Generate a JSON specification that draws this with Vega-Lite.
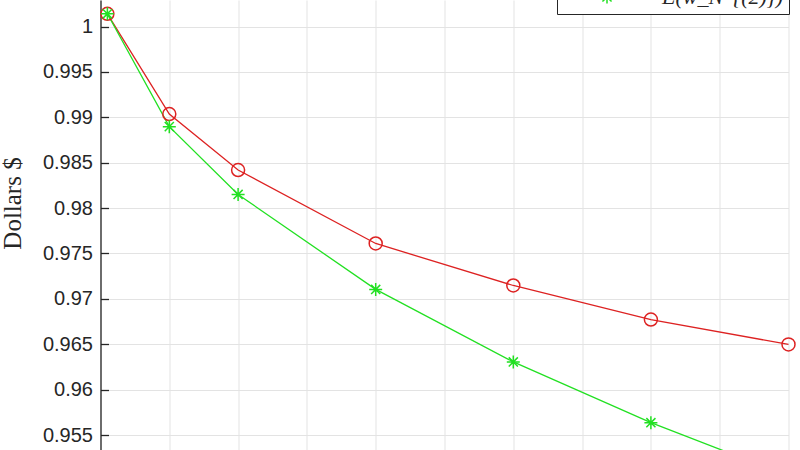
{
  "$schema": "https://vega.github.io/schema/vega-lite/v6.json",
  "width": 688,
  "height": 450,
  "autosize": {"type": "none"},
  "padding": {"left": 100.5, "top": 0, "right": 11.5, "bottom": 0},
  "background": "white",
  "config": {"view": {"stroke": null}},
  "data": {
    "values": [
      {"N": 1, "value": 1.0014, "series": "E(w_N^{(1)})"},
      {"N": 10, "value": 0.99036, "series": "E(w_N^{(1)})"},
      {"N": 20, "value": 0.98419, "series": "E(w_N^{(1)})"},
      {"N": 40, "value": 0.9761, "series": "E(w_N^{(1)})"},
      {"N": 60, "value": 0.97147, "series": "E(w_N^{(1)})"},
      {"N": 80, "value": 0.96772, "series": "E(w_N^{(1)})"},
      {"N": 100, "value": 0.96498, "series": "E(w_N^{(1)})"},
      {"N": 1, "value": 1.0014, "series": "E(w_N^{(2)})"},
      {"N": 10, "value": 0.98897, "series": "E(w_N^{(2)})"},
      {"N": 20, "value": 0.9815, "series": "E(w_N^{(2)})"},
      {"N": 40, "value": 0.97104, "series": "E(w_N^{(2)})"},
      {"N": 60, "value": 0.96305, "series": "E(w_N^{(2)})"},
      {"N": 80, "value": 0.95636, "series": "E(w_N^{(2)})"},
      {"N": 100, "value": 0.9505, "series": "E(w_N^{(2)})"}
    ]
  },
  "encoding": {
    "x": {
      "field": "N", "type": "quantitative",
      "scale": {"domain": [0, 100], "nice": false, "zero": false},
      "axis": {"values": [0,10,20,30,40,50,60,70,80,90,100], "grid": true, "gridColor": "#e3e3e3", "gridWidth": 1,
               "labels": false, "ticks": false, "domain": false, "title": null}
    },
    "y": {
      "field": "value", "type": "quantitative",
      "scale": {"domain": [0.953348, 1.002921], "nice": false, "zero": false},
      "axis": {
        "values": [0.955, 0.96, 0.965, 0.97, 0.975, 0.98, 0.985, 0.99, 0.995, 1],
        "format": "~g",
        "grid": true, "gridColor": "#e3e3e3", "gridWidth": 1,
        "domainColor": "#262626", "domainWidth": 1.3,
        "tickColor": "#262626", "tickSize": -8, "tickWidth": 1.3,
        "labelFont": "Liberation Sans", "labelFontSize": 20, "labelColor": "#262626",
        "labelPadding": 16,
        "title": "Dollars $", "titleFont": "Liberation Serif", "titleFontSize": 25,
        "titleFontWeight": "normal", "titleColor": "#262626",
        "titleAngle": 270, "titleX": -88, "titleY": 203, "titleAlign": "center", "titleBaseline": "middle"
      }
    },
    "color": {
      "field": "series", "type": "nominal",
      "scale": {"domain": ["E(w_N^{(1)})", "E(w_N^{(2)})"], "range": ["#dd2222", "#22e022"]},
      "legend": {
        "orient": "none", "legendX": 456.5, "legendY": -52, "title": null,
        "strokeColor": "#262626", "fillColor": "white", "padding": 6,
        "labelFont": "Liberation Serif", "labelFontStyle": "italic", "labelFontSize": 22, "labelColor": "#262626",
        "symbolOffset": 33, "labelOffset": 44, "rowPadding": 10, "symbolSize": 169, "symbolStrokeWidth": 1.5
      }
    }
  },
  "layer": [
    {"mark": {"type": "line", "strokeWidth": 1.3}},
    {
      "mark": {"type": "point", "filled": false, "size": 169, "strokeWidth": 1.5, "opacity": 1},
      "encoding": {
        "shape": {
          "field": "series", "type": "nominal",
          "scale": {"domain": ["E(w_N^{(1)})", "E(w_N^{(2)})"], "range": ["circle", "M-1,0L1,0M0,-1L0,1M-0.7,-0.7L0.7,0.7M-0.7,0.7L0.7,-0.7"]},
          "legend": null
        }
      }
    }
  ]
}
